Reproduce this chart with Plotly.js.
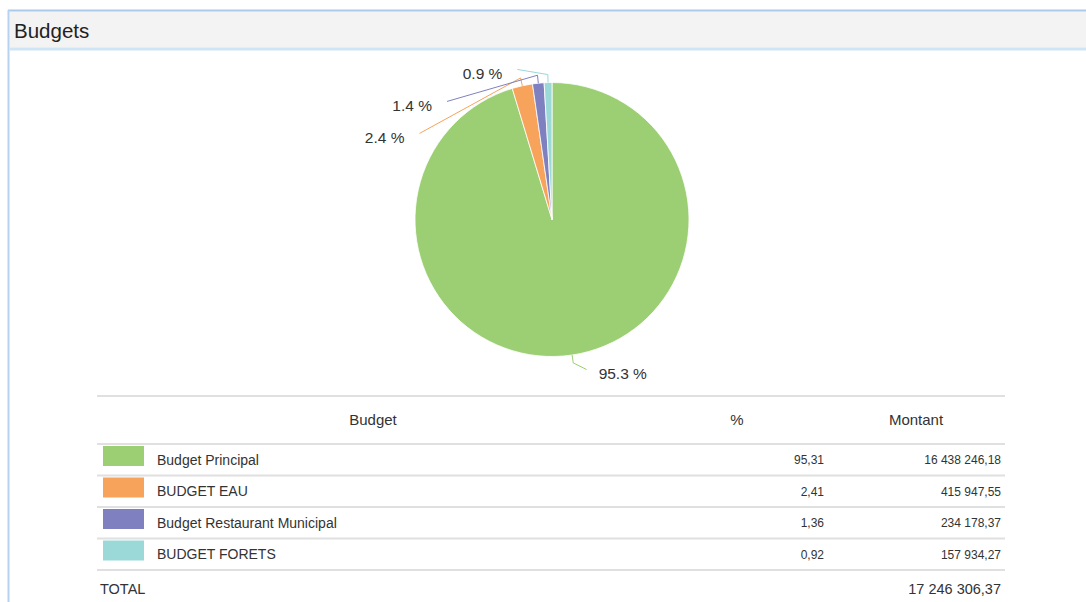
<!DOCTYPE html>
<html><head><meta charset="utf-8">
<script src="https://cdn.plot.ly/plotly-3.0.1.min.js"></script>
<style>html,body{margin:0;padding:0;background:#fff;overflow:hidden;} #chart{width:1086px;height:602px;}</style>
</head><body><div id="chart"></div>
<script>
// ---------- data ----------
const chartTitle = 'Budgets';
const categories = ['Budget Principal', 'BUDGET EAU', 'Budget Restaurant Municipal', 'BUDGET FORETS'];
const amounts = [16438246.18, 415947.55, 234178.37, 157934.27];
const columnHeaders = ['Budget', '%', 'Montant'];
const totalLabel = 'TOTAL';
// ---------- style ----------
const colors = ['#9ccf73', '#f7a35c', '#7f80bf', '#9ad9d8'];
const FONT = '"Liberation Sans", Arial, Helvetica, sans-serif';
const W = 1086, H = 602;
const TDY = 1.5; // vertical text nudge

const total = amounts.reduce((a, b) => a + b, 0);
const shares = amounts.map(v => v / total);

function frNumber(v, dec) {
  const s = v.toFixed(dec);
  let [ip, dp] = s.split('.');
  ip = ip.replace(/\B(?=(\d{3})+(?!\d))/g, ' ');
  return dp ? ip + ',' + dp : ip;
}

// ---------- pie geometry ----------
const cx = 552, cy = 219.5, r = 137;
const pieDomain = {x: [(cx - r) / W, (cx + r) / W], y: [1 - (cy + r) / H, 1 - (cy - r) / H]};

// label placement (computed from slice angles)
const R = 154, R2 = 158, minGap = 32, minAng = 13 * Math.PI / 180;
let cum = 0;
const lbl = [];
shares.forEach((s, i) => {
  const mid = (cum + s / 2) * 2 * Math.PI; cum += s;
  const dx = Math.sin(mid), dy = -Math.cos(mid);
  const side = dx < 0 ? -1 : 1;
  let la = mid;
  if (side < 0) la = Math.min(Math.max(la, Math.PI + minAng), 2 * Math.PI - minAng);
  else la = Math.min(Math.max(la, minAng), Math.PI - minAng);
  lbl.push({i, mid, side,
    edge: [cx + r * dx, cy + r * dy],
    elbow: [cx + (r + 8) * dx, cy + (r + 8) * dy],
    end: [cx + R * Math.sin(la), cy - R * Math.cos(la)]});
});
[-1, 1].forEach(side => {
  const L = lbl.filter(l => l.side === side).sort((a, b) => side < 0 ? b.mid - a.mid : a.mid - b.mid);
  for (let k = 1; k < L.length; k++) {
    if (L[k].end[1] < L[k - 1].end[1] + minGap) {
      const y = L[k - 1].end[1] + minGap;
      const ddy = y - cy;
      const ddx = Math.sqrt(Math.max(R2 * R2 - ddy * ddy, 0));
      L[k].end = [cx + side * ddx, y];
    }
  }
});

// ---------- table geometry ----------
const tX0 = 97, tX1 = 1005, tTop = 396, hdrBottom = 444, rowH = 31.5;
const hdrY = (tTop + hdrBottom) / 2 + TDY;
const colX = [373, 737, 916];
const nameX = 157, pctX = 824, amtX = 1001, swX0 = 103, swX1 = 144;
const rowLine = k => hdrBottom + k * rowH;
const rowMid = i => hdrBottom + (i + 0.5) * rowH + TDY;
const totalY = rowLine(categories.length) + 19 + TDY;

const traces = [];
traces.push({
  type: 'pie', values: amounts, labels: categories, sort: false, direction: 'clockwise', rotation: 0,
  marker: {colors: colors, line: {color: '#ffffff', width: 0.8}},
  textinfo: 'none', hoverinfo: 'none', showlegend: false, domain: pieDomain
});

// pie labels
lbl.forEach(l => {
  traces.push({
    type: 'scatter', mode: 'text', x: [l.end[0] + (l.side < 0 ? -15 : 12)], y: [l.end[1] + 5.5],
    text: [(shares[l.i] * 100).toFixed(1) + ' %'], textposition: l.side < 0 ? 'middle left' : 'middle right',
    textfont: {family: FONT, size: 15.5, color: '#333333'}, hoverinfo: 'none', showlegend: false, cliponaxis: false
  });
});

const txt = (x, y, text, pos, size, color) => ({
  type: 'scatter', mode: 'text', x, y, text, textposition: pos,
  textfont: {family: FONT, size, color: color || '#333333'}, hoverinfo: 'none', showlegend: false, cliponaxis: false
});

traces.push(txt([14], [31 + TDY], [chartTitle], 'middle right', 20.5, '#222222'));
traces.push(txt(colX, colX.map(() => hdrY), columnHeaders, 'middle center', 15));
traces.push(txt(categories.map(() => nameX), categories.map((c, i) => rowMid(i)), categories, 'middle right', 14));
traces.push(txt(categories.map(() => pctX), categories.map((c, i) => rowMid(i)), shares.map(s => frNumber(s * 100, 2)), 'middle left', 12));
traces.push(txt(categories.map(() => amtX), categories.map((c, i) => rowMid(i)), amounts.map(v => frNumber(v, 2)), 'middle left', 12));
traces.push(txt([100], [totalY], [totalLabel], 'middle right', 14.5));
traces.push(txt([amtX], [totalY], [frNumber(total, 2)], 'middle left', 14.5));

// ---------- shapes ----------
const shapes = [];
// panel
shapes.push({type: 'rect', xref: 'x', yref: 'y', x0: 9.5, x1: W, y0: 11.5, y1: 47.5, fillcolor: '#f3f3f3', line: {width: 0}, layer: 'below'});
shapes.push({type: 'line', xref: 'x', yref: 'y', x0: 8, x1: W, y0: 10.5, y1: 10.5, line: {color: '#a9caeb', width: 2}});
shapes.push({type: 'line', xref: 'x', yref: 'y', x0: 8.5, x1: 8.5, y0: 10, y1: H, line: {color: '#b5d3f0', width: 2}});
shapes.push({type: 'line', xref: 'x', yref: 'y', x0: 9.5, x1: W, y0: 49, y1: 49, line: {color: '#cfe4f5', width: 3}});
// table lines
[tTop].concat(categories.map((c, k) => rowLine(k))).concat([rowLine(categories.length)]).forEach(y => {
  shapes.push({type: 'line', xref: 'x', yref: 'y', x0: tX0, x1: tX1, y0: y, y1: y, line: {color: '#e0e0e0', width: 2}});
});
// swatches
categories.forEach((c, i) => {
  shapes.push({type: 'rect', xref: 'x', yref: 'y', x0: swX0, x1: swX1, y0: rowLine(i) + 2, y1: rowLine(i) + 22,
    fillcolor: colors[i], line: {width: 0}});
});
// leader lines
lbl.forEach(l => {
  shapes.push({type: 'path', xref: 'x', yref: 'y',
    path: `M ${l.edge[0]} ${l.edge[1]} L ${l.elbow[0]} ${l.elbow[1]} L ${l.end[0]} ${l.end[1]}`,
    line: {color: colors[l.i], width: 1}});
});

const layout = {
  width: W, height: H, margin: {l: 0, r: 0, t: 0, b: 0, pad: 0},
  paper_bgcolor: '#ffffff', plot_bgcolor: 'rgba(0,0,0,0)',
  xaxis: {range: [0, W], visible: false, fixedrange: true},
  yaxis: {range: [H, 0], visible: false, fixedrange: true},
  shapes: shapes, showlegend: false, font: {family: FONT}
};
Plotly.newPlot('chart', traces, layout, {displayModeBar: false, staticPlot: true});
</script>
</body></html>
